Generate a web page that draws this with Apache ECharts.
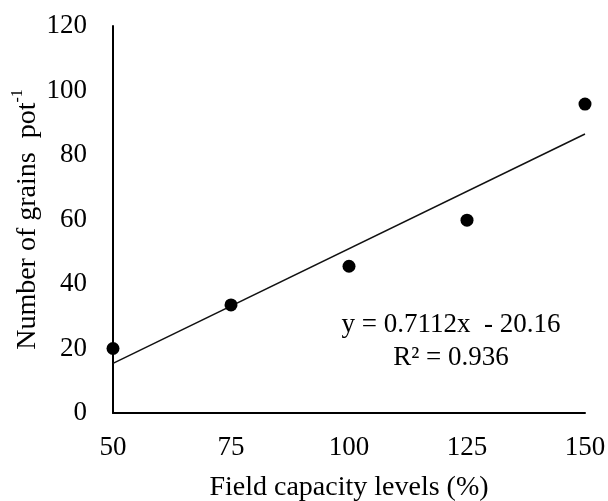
<!DOCTYPE html>
<html>
<head>
<meta charset="utf-8">
<script src="https://cdn.jsdelivr.net/npm/echarts@6/dist/echarts.min.js"></script>
<style>
  html, body { margin: 0; padding: 0; background: #fff; }
  #chart { width: 608px; height: 501px; }
</style>
</head>
<body>
<div id="chart"></div>
<script>
  // field capacity levels and grain counts
  var fieldCapacity = [50, 75, 100, 125, 150];
  var grainsPerPot = [20, 33.5, 45.5, 59.8, 95.8];
  // fitted line y = 0.7112x - 20.16, end points
  var trendX = [50, 150];
  var trendY = [15.4, 86.5];
  var equationText = 'y = 0.7112x  - 20.16';
  var r2Text = 'R² = 0.936';

  var font = '"Liberation Serif", "Times New Roman", serif';
  var chart = echarts.init(document.getElementById('chart'));

  var option = {
    animation: false,
    grid: {
      left: 113,
      right: 23,
      top: 26,
      bottom: 88,
      containLabel: false,
      outerBoundsMode: 'none'
    },
    xAxis: {
      type: 'value',
      min: 50,
      max: 150,
      interval: 25,
      name: 'Field capacity levels (%)',
      nameLocation: 'middle',
      nameGap: 61,
      nameTextStyle: { color: '#000', fontFamily: font, fontSize: 28 },
      axisLine: { show: true, onZero: false, lineStyle: { color: '#000', width: 2 } },
      axisTick: { show: false },
      splitLine: { show: false },
      axisLabel: { color: '#000', fontFamily: font, fontSize: 27, margin: 21 }
    },
    yAxis: {
      type: 'value',
      min: 0,
      max: 120,
      interval: 20,
      name: '{a|Number of grains  pot}{s|-1}',
      nameLocation: 'middle',
      nameGap: 71,
      nameMoveOverlap: false,
      nameTextStyle: {
        rich: {
          a: { color: '#000', fontFamily: font, fontSize: 28, lineHeight: 32, verticalAlign: 'bottom' },
          s: { color: '#000', fontFamily: font, fontSize: 16, lineHeight: 32, verticalAlign: 'top', padding: [0, 0, 12, 0] }
        }
      },
      axisLine: { show: true, onZero: false, lineStyle: { color: '#000', width: 2 } },
      axisTick: { show: false },
      splitLine: { show: false },
      axisLabel: { color: '#000', fontFamily: font, fontSize: 27, margin: 26 }
    },
    series: [
      {
        type: 'line',
        data: trendX.map(function (x, i) { return [x, trendY[i]]; }),
        showSymbol: false,
        symbol: 'none',
        lineStyle: { color: '#111', width: 1.5 },
        z: 2
      },
      {
        type: 'scatter',
        data: fieldCapacity.map(function (x, i) { return [x, grainsPerPot[i]]; }),
        symbol: 'circle',
        symbolSize: 13,
        itemStyle: { color: '#000', opacity: 1 },
        z: 3
      }
    ],
    graphic: [
      {
        type: 'text',
        x: 451,
        y: 325,
        style: {
          text: equationText,
          fill: '#000',
          font: '27px ' + font,
          align: 'center',
          verticalAlign: 'middle'
        }
      },
      {
        type: 'text',
        x: 451,
        y: 358,
        style: {
          text: r2Text,
          fill: '#000',
          font: '27px ' + font,
          align: 'center',
          verticalAlign: 'middle'
        }
      }
    ]
  };

  chart.setOption(option);
</script>
</body>
</html>
